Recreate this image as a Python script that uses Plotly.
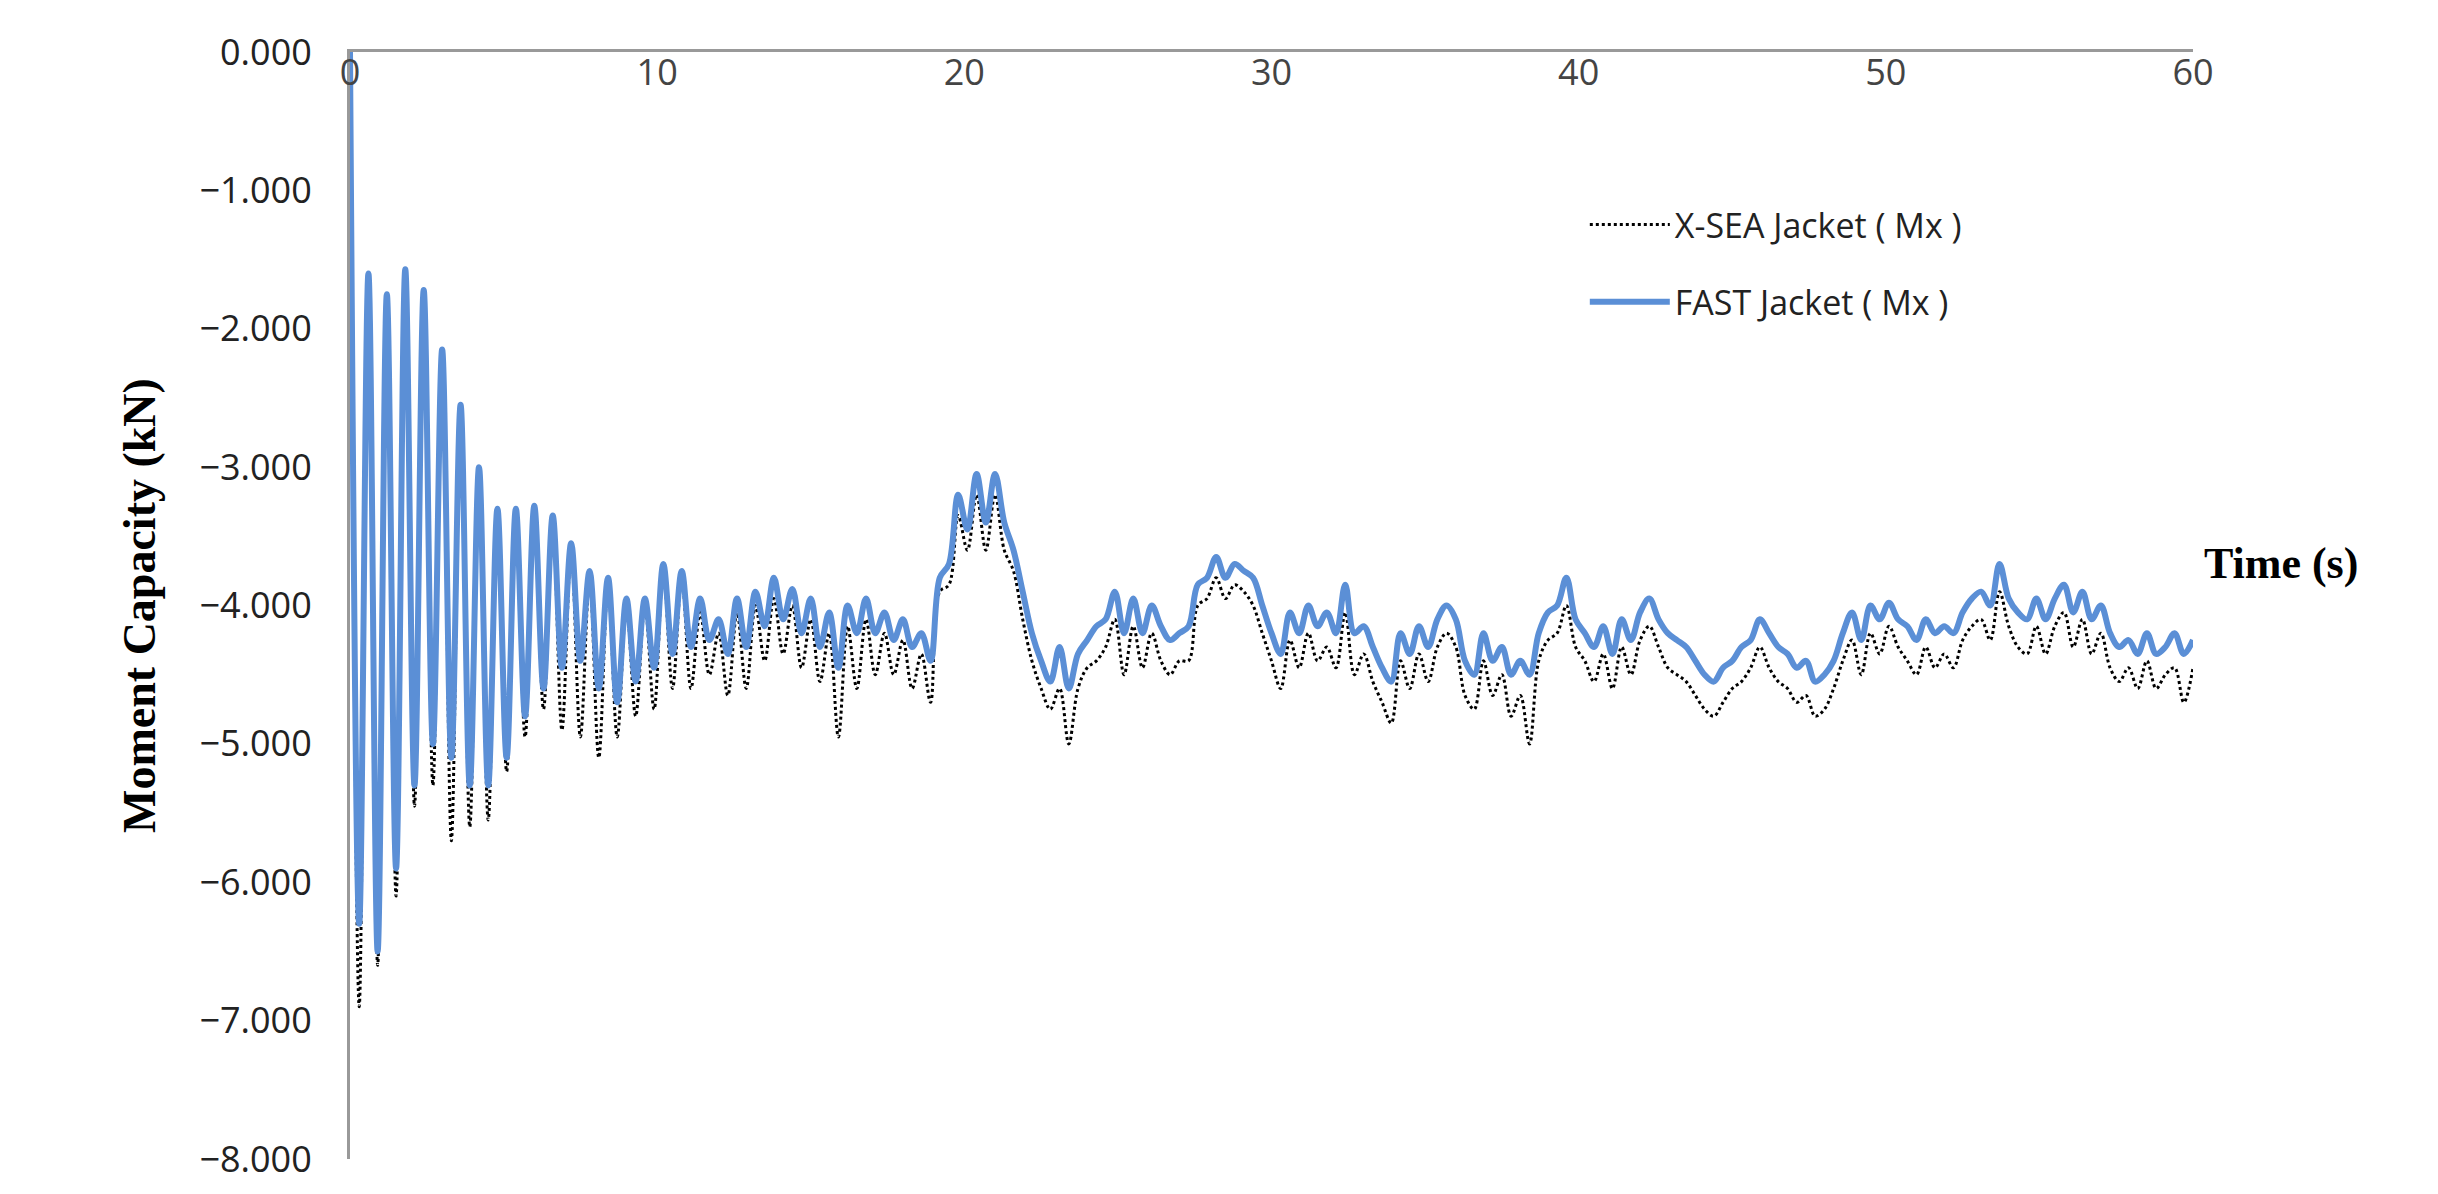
import numpy as np
import plotly.graph_objects as go

dt = 0.3
fast = [0,-6.3,-1.6,-6.5,-1.75,-5.9,-1.57,-5.3,-1.72,-5.0,-2.15,-5.1,-2.55,-5.3,-3.0,-5.3,-3.3,-5.1,-3.3,-4.8,
-3.28,-4.6,-3.35,-4.45,-3.55,-4.4,-3.75,-4.6,-3.8,-4.7,-3.95,-4.55,-3.95,-4.45,-3.7,-4.35,-3.75,-4.3,-3.95,-4.25,
-4.1,-4.35,-3.95,-4.3,-3.9,-4.15,-3.8,-4.1,-3.88,-4.2,-3.95,-4.3,-4.05,-4.45,-4.0,-4.2,-3.95,-4.2,-4.05,-4.25,
-4.1,-4.3,-4.2,-4.4,-3.8,-3.7,-3.2,-3.45,-3.05,-3.4,-3.05,-3.4,-3.6,-3.9,-4.2,-4.4,-4.55,-4.3,-4.6,-4.35,
-4.25,-4.15,-4.1,-3.9,-4.2,-3.95,-4.2,-4.0,-4.15,-4.25,-4.2,-4.15,-3.85,-3.8,-3.65,-3.8,-3.7,-3.75,-3.8,-4.0,
-4.2,-4.35,-4.05,-4.2,-4.0,-4.15,-4.05,-4.2,-3.85,-4.2,-4.15,-4.3,-4.45,-4.55,-4.2,-4.35,-4.15,-4.3,-4.1,-4.0,
-4.1,-4.4,-4.5,-4.2,-4.4,-4.3,-4.5,-4.4,-4.5,-4.2,-4.05,-4.0,-3.8,-4.1,-4.2,-4.3,-4.15,-4.35,-4.1,-4.25,
-4.05,-3.95,-4.1,-4.2,-4.25,-4.3,-4.4,-4.5,-4.55,-4.45,-4.4,-4.3,-4.25,-4.1,-4.2,-4.3,-4.35,-4.45,-4.4,-4.55,
-4.5,-4.4,-4.2,-4.05,-4.25,-4.0,-4.1,-3.98,-4.1,-4.15,-4.25,-4.1,-4.2,-4.15,-4.2,-4.05,-3.95,-3.9,-4.0,-3.7,
-3.95,-4.05,-4.1,-3.95,-4.1,-3.95,-3.85,-4.05,-3.9,-4.1,-4.0,-4.2,-4.3,-4.25,-4.35,-4.2,-4.35,-4.3,-4.2,-4.35,-4.25]
xsea = [0,-6.9,-1.65,-6.6,-1.8,-6.1,-1.62,-5.45,-1.78,-5.3,-2.2,-5.7,-2.6,-5.6,-3.05,-5.55,-3.35,-5.2,-3.35,-4.95,
-3.35,-4.75,-3.4,-4.9,-3.6,-4.95,-3.8,-5.1,-3.85,-4.95,-4.0,-4.8,-4.0,-4.75,-3.75,-4.6,-3.8,-4.6,-4.05,-4.5,
-4.2,-4.65,-4.05,-4.6,-4.0,-4.4,-3.95,-4.35,-4.0,-4.45,-4.1,-4.55,-4.2,-4.95,-4.15,-4.6,-4.1,-4.5,-4.2,-4.5,
-4.25,-4.6,-4.35,-4.7,-3.9,-3.85,-3.35,-3.6,-3.2,-3.6,-3.2,-3.6,-3.75,-4.1,-4.4,-4.6,-4.75,-4.6,-5.0,-4.6,
-4.45,-4.4,-4.3,-4.1,-4.5,-4.15,-4.45,-4.2,-4.4,-4.5,-4.4,-4.4,-4.0,-3.95,-3.8,-3.95,-3.85,-3.9,-4.0,-4.2,
-4.4,-4.6,-4.25,-4.45,-4.2,-4.4,-4.3,-4.45,-4.05,-4.5,-4.35,-4.55,-4.7,-4.85,-4.4,-4.6,-4.35,-4.55,-4.3,-4.2,
-4.3,-4.65,-4.75,-4.4,-4.65,-4.5,-4.8,-4.65,-5.0,-4.4,-4.25,-4.2,-4.0,-4.3,-4.4,-4.55,-4.35,-4.6,-4.3,-4.5,
-4.25,-4.15,-4.3,-4.45,-4.5,-4.55,-4.65,-4.75,-4.8,-4.7,-4.6,-4.55,-4.45,-4.3,-4.45,-4.55,-4.6,-4.7,-4.65,-4.8,
-4.75,-4.6,-4.4,-4.25,-4.5,-4.2,-4.35,-4.15,-4.3,-4.4,-4.5,-4.3,-4.45,-4.35,-4.45,-4.25,-4.15,-4.1,-4.25,-3.9,
-4.15,-4.3,-4.35,-4.15,-4.35,-4.15,-4.05,-4.3,-4.1,-4.35,-4.2,-4.45,-4.55,-4.45,-4.6,-4.4,-4.6,-4.5,-4.45,-4.7,-4.45]
t_fast = np.arange(len(fast)) * dt
t_xsea = np.arange(len(xsea)) * dt
x_ticks = [0, 10, 20, 30, 40, 50, 60]
y_ticks = [0, -1, -2, -3, -4, -5, -6, -7, -8]

fig = go.Figure()
fig.add_trace(go.Scatter(x=t_xsea, y=xsea, mode="lines", name="X-SEA Jacket ( Mx )", legendgroup="a",
                         line=dict(color="black", width=3, dash="dot", shape="spline")))
fig.add_trace(go.Scatter(x=t_fast, y=fast, mode="lines", name="FAST Jacket ( Mx )", legendgroup="b",
                         line=dict(color="#5B8FD6", width=6, shape="spline")))
fig.update_layout(
    width=2438, height=1194, plot_bgcolor="white", paper_bgcolor="white",
    margin=dict(l=342, r=253, t=44, b=43),
    font=dict(family="Open Sans, Calibri, sans-serif", size=36, color="#222"),
    legend=dict(x=0.67, y=0.87, xanchor="left", yanchor="top", bgcolor="rgba(0,0,0,0)",
                font=dict(size=34), tracegroupgap=30, itemwidth=80),
    xaxis=dict(range=[0, 60], side="top", tickvals=x_ticks, ticklabelposition="inside",
               ticklabeloverflow="allow", ticklabelstandoff=12,
               showgrid=False, zeroline=False, showline=True, linecolor="#999", linewidth=3,
               ticks="", tickfont=dict(size=36)),
    yaxis=dict(range=[-8, 0], tickvals=y_ticks, tickformat=".3f", showgrid=False, zeroline=False,
               ticklabeloverflow="allow", ticklabelstandoff=28,
               showline=True, linecolor="#999", linewidth=3, ticks="", tickfont=dict(size=36),
               title=dict(text="<b>Moment Capacity (kN)</b>",
                          font=dict(family="Liberation Serif, Times New Roman, serif", size=46, color="black"),
                          standoff=30)),
    annotations=[dict(text="<b>Time (s)</b>", x=1.005, y=(-3.7 + 8) / 8, xref="paper", yref="paper",
                      xanchor="left", yanchor="middle", showarrow=False,
                      font=dict(family="Liberation Serif, Times New Roman, serif", size=44, color="black"))],
)
fig.write_html("out.html")
